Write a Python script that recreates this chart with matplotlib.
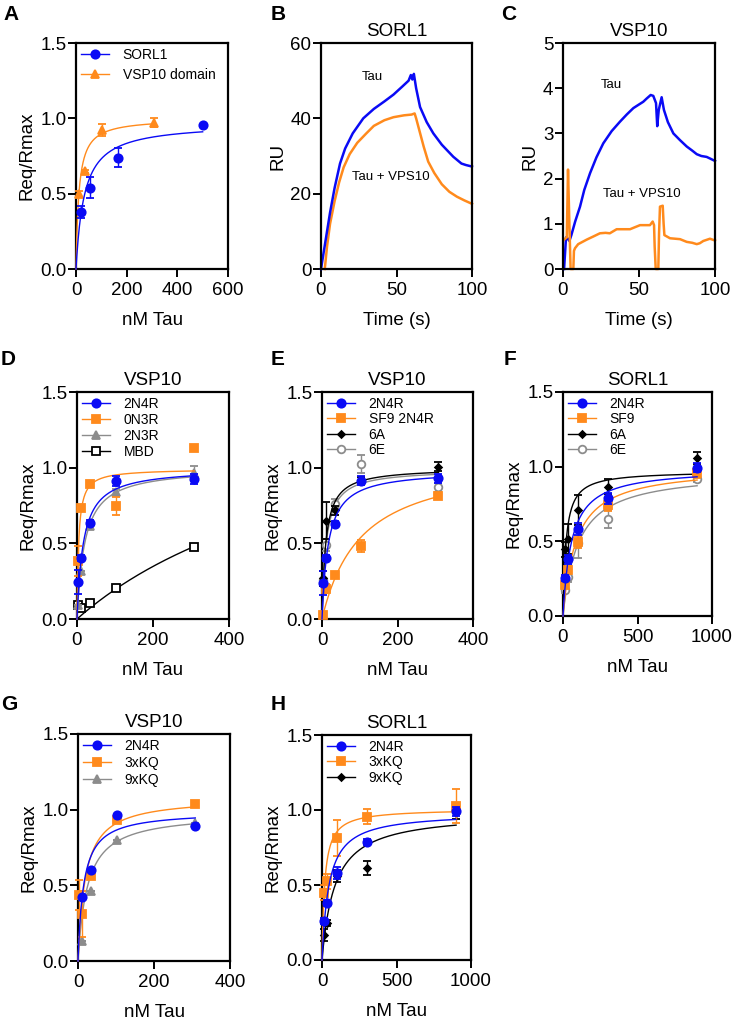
import matplotlib
matplotlib.use('Agg')
import matplotlib.pyplot as plt
from matplotlib.lines import Line2D
import numpy as np

plt.rcParams['font.family'] = ['Liberation Sans', 'DejaVu Sans']

BLUE = '#0a0af5'
ORANGE = '#ff8a1c'
GREY = '#8c8c8c'
BLACK = '#000000'

# ---- panel A: saturation binding ----
a_sorl_x = [18.5, 55.6, 166.7, 500]
a_sorl_y = [0.38, 0.54, 0.74, 0.955]
a_sorl_err = [0.04, 0.07, 0.06, 0.0]
a_vps_x = [11.4, 34.3, 102.9, 308.6]
a_vps_y = [0.50, 0.65, 0.925, 0.97]
a_vps_err = [0.02, 0.01, 0.04, 0.03]
a_fit = {'SORL1': (0.97, 32.6), 'VSP10 domain': (1.0, 11.5)}

# ---- panel B: sensorgram SORL1 ----
b_tau_t = [0, 2, 4, 6, 9, 12.6, 16, 21, 28, 35, 42, 48, 54, 58, 59.5, 60.5, 61.5,
           63, 65.6, 70, 74.4, 80, 87.6, 93, 96, 100]
b_tau_ru = [0, 5, 10, 15, 21.5, 28, 32, 36, 40, 42.5, 44.5, 46.3, 48.5, 50, 51.5, 50.3, 51.8,
            48, 43, 39, 36, 33, 29.8, 28, 27.6, 27.2]
b_vps_t = [2.5, 4, 6, 9, 12, 15, 19, 24, 30, 35, 42, 48, 55, 60, 62, 63, 65, 68, 71, 75,
           80, 85, 90, 95, 100]
b_vps_ru = [0, 6, 12, 18, 23, 27, 30.5, 33.5, 36, 38, 39.5, 40.3, 40.8, 41, 41.3, 40, 37,
            32.5, 28.5, 25.5, 22.5, 20.5, 19.2, 18.2, 17.3]

# ---- panel C: sensorgram VSP10 ----
c_tau_t = [0.7, 2, 3, 4.2, 5.5, 8, 11.2, 14, 17.8, 22, 26.5, 32, 37.5, 42, 46.3, 50, 52.8,
           55, 57.7, 59.4, 61.2, 62, 63, 64.9, 66.4, 69, 72.6, 77, 81.4, 85, 88, 91, 94.5,
           97, 100]
c_tau_ru = [0, 0.7, 0.68, 0.62, 0.75, 1.05, 1.38, 1.75, 2.12, 2.47, 2.78, 3.05, 3.26, 3.42,
            3.56, 3.64, 3.70, 3.77, 3.85, 3.83, 3.67, 3.16, 3.52, 3.80, 3.52, 3.25, 3.0, 2.85,
            2.71, 2.62, 2.54, 2.5, 2.48, 2.44, 2.39]
c_vps_t = [0.7, 2.5, 3.3, 4.2, 5, 6.8, 7.2, 7.9, 10, 15.6, 20, 24.3, 28, 30.8, 35.3, 40, 44.1,
           47, 50.7, 55, 57.2, 59, 59.9, 60.3, 61, 62.7, 63.2, 63.8, 65.6, 66.2, 66.7, 70.4,
           77, 81.4, 85, 88, 90, 92.3, 96.7, 100]
c_vps_ru = [0.65, 0.7, 2.2, 1.0, 0, 0, 0.4, 0.46, 0.55, 0.65, 0.72, 0.79, 0.8, 0.79, 0.88,
            0.88, 0.88, 0.92, 0.97, 0.97, 0.97, 1.05, 0.97, 0.5, 0, 0, 0.8, 1.38, 1.4, 1.0,
            0.75, 0.68, 0.66, 0.6, 0.58, 0.55, 0.57, 0.62, 0.67, 0.63]

# ---- panels D, E, G (VSP10) concentrations ----
conc_v = [3.8, 11.4, 34.3, 102.9, 308.6]
conc_v4 = [11.4, 34.3, 102.9, 308.6]
# ---- panels F, H (SORL1) concentrations ----
conc_s = [11.1, 33.3, 100, 300, 900]

d_2n4r = [0.243, 0.40, 0.632, 0.912, 0.925]
d_2n4r_err = [0.08, 0.02, 0.02, 0.03, 0.03]
d_0n3r = [0.383, 0.735, 0.89, 0.747, 1.128]
d_0n3r_err = [0.1, 0.0, 0.0, 0.06, 0.0]
d_2n3r = [0.093, 0.317, 0.617, 0.837, 0.963]
d_2n3r_err = [0.0, 0.0, 0.0, 0.02, 0.05]
d_mbd = [0.093, 0.075, 0.104, 0.207, 0.478]
d_mbd_err = [0.0, 0.0, 0.0, 0.0, 0.0]
d_fit = {'2N4R': (0.998, 16.6), '0N3R': (0.992, 4.3), '2N3R': (1.002, 20.3), 'MBD': (1.61, 727)}

e_2n4r = [0.24, 0.40, 0.63, 0.914, 0.93]
e_2n4r_err = [0.08, 0.02, 0.02, 0.03, 0.03]
e_sf9 = [0.026, 0.20, 0.29, 0.485, 0.81]
e_sf9_err = [0.0, 0.03, 0.02, 0.04, 0.02]
e_6a = [0.27, 0.65, 0.72, 0.92, 1.005]
e_6a_err = [0.05, 0.12, 0.03, 0.02, 0.03]
e_6e = [0.26, 0.49, 0.76, 1.025, 0.87]
e_6e_err = [0.0, 0.04, 0.03, 0.06, 0.03]
e_fit = {'2N4R': (0.985, 16.6), 'SF9 2N4R': (1.08, 103), '6A': (1.0, 10), '6E': (0.99, 11)}

f_2n4r = [0.253, 0.38, 0.58, 0.787, 0.993]
f_2n4r_err = [0.02, 0.03, 0.04, 0.04, 0.03]
f_sf9 = [0.208, 0.31, 0.495, 0.742, 0.955]
f_sf9_err = [0.02, 0.02, 0.04, 0.04, 0.03]
f_6a = [0.446, 0.518, 0.708, 0.865, 1.06]
f_6a_err = [0.05, 0.1, 0.1, 0.05, 0.04]
f_6e = [0.177, 0.26, 0.49, 0.652, 0.92]
f_6e_err = [0.02, 0.03, 0.1, 0.06, 0.02]
f_fit = {'2N4R': (0.991, 57), 'SF9': (1.0, 88.6), '6A': (0.971, 19.9), '6E': (0.971, 102)}

g_2n4r = [0.42, 0.60, 0.967, 0.889]
g_2n4r_err = [0.0, 0.0, 0.0, 0.0]
g_3xkq = [0.436, 0.31, 0.562, 0.929, 1.04]
g_3xkq_err = [0.1, 0.15, 0.02, 0.02, 0.02]
g_9xkq = [0.133, 0.463, 0.80, 0.91]
g_9xkq_err = [0.0, 0.0, 0.0, 0.0]
g_fit = {'2N4R': (0.99, 14.6), '3xKQ': (1.081, 19), '9xKQ': (0.98, 24.7)}

h_2n4r = [0.26, 0.383, 0.578, 0.787, 0.993]
h_2n4r_err = [0.02, 0.02, 0.04, 0.02, 0.03]
h_3xkq = [0.45, 0.525, 0.814, 0.955, 1.027]
h_3xkq_err = [0.05, 0.05, 0.12, 0.05, 0.115]
h_9xkq = [0.17, 0.245, 0.563, 0.615, 0.978]
h_9xkq_err = [0.04, 0.02, 0.04, 0.045, 0.04]
h_fit = {'2N4R': (0.985, 45.9), '3xKQ': (1.008, 17.9), '9xKQ': (0.985, 86)}

# marker styles per series: (marker, size, facecolor)
STY = {
    'circle': ('o', 6, None),
    'square': ('s', 5.5, None),
    'tri': ('^', 5.5, None),
    'diamond': ('D', 3.5, None),
    'opensq': ('s', 5.5, 'white'),
    'opencirc': ('o', 5.5, 'white'),
}

TICK_FS = 13.5
LAB_FS = 13.5
LEG_FS = 10

fig = plt.figure(figsize=(7.33, 10.26), dpi=100)
W, H = 733.0, 1026.0


def make_ax(x0, y0, x1, y1):
    return fig.add_axes([x0 / W, 1 - y1 / H, (x1 - x0) / W, (y1 - y0) / H])


def style_ax(ax):
    for s in ax.spines.values():
        s.set_linewidth(1.6)
    ax.tick_params(direction='out', length=5.5, width=1.4, labelsize=TICK_FS)
    ax.tick_params(axis='x', pad=4)
    ax.tick_params(axis='y', pad=1.5)


def binding(ax, series, fits, xmax, xticks, title, lab_sp):
    handles = []
    for i, (name, x, y, err, color, kind) in enumerate(series):
        mk, ms, mfc = STY[kind]
        z = 10 - i
        bm, kd = fits[name]
        xf = np.linspace(0, max(x), 300)
        ax.plot(xf, bm * xf / (kd + xf), color=color, lw=1.0, zorder=z, clip_on=False)
        ax.errorbar(x, y, yerr=err, fmt=mk, ms=ms, color=color,
                    mfc=mfc if mfc else color, mec=color, mew=1.3,
                    ecolor=color, elinewidth=1.0, capsize=3, capthick=1.0, zorder=z + 0.5,
                    clip_on=False)
        handles.append(Line2D([], [], color=color, lw=1.0, marker=mk, ms=ms,
                              mfc=mfc if mfc else color, mec=color, mew=1.3, label=name))
    ax.set_xlim(0, xmax)
    ax.set_ylim(0, 1.5)
    ax.set_xticks(xticks)
    ax.set_yticks([0, 0.5, 1.0, 1.5])
    ax.set_yticklabels(['0.0', '0.5', '1.0', '1.5'])
    ax.set_ylabel('Req/Rmax', fontsize=LAB_FS, labelpad=3)
    ax.set_xlabel('nM Tau', fontsize=LAB_FS, labelpad=9)
    if title:
        ax.set_title(title, fontsize=LAB_FS, pad=5)
    ax.legend(handles=handles, loc='upper left', frameon=False, fontsize=LEG_FS,
              handlelength=2.0, handletextpad=1.0, labelspacing=lab_sp,
              borderaxespad=0.2, borderpad=0.15)
    style_ax(ax)


# A
axA = make_ax(76, 43, 228, 269)
binding(axA, [('SORL1', a_sorl_x, a_sorl_y, a_sorl_err, BLUE, 'circle'),
              ('VSP10 domain', a_vps_x, a_vps_y, a_vps_err, ORANGE, 'tri')],
        a_fit, 600, [0, 200, 400, 600], None, 0.45)

# B
axB = make_ax(321, 43, 472, 269)
axB.plot(b_tau_t, b_tau_ru, color=BLUE, lw=1.8, clip_on=False)
axB.plot(b_vps_t, b_vps_ru, color=ORANGE, lw=1.8, clip_on=False, zorder=1)
axB.set_xlim(0, 100)
axB.set_ylim(0, 60)
axB.set_xticks([0, 50, 100])
axB.set_yticks([0, 20, 40, 60])
axB.set_ylabel('RU', fontsize=LAB_FS, labelpad=3)
axB.set_xlabel('Time (s)', fontsize=LAB_FS, labelpad=9)
axB.set_title('SORL1', fontsize=LAB_FS, pad=5)
axB.text(34, 51, 'Tau', fontsize=9.5, ha='center', va='center')
axB.text(46, 24.5, 'Tau + VPS10', fontsize=9.5, ha='center', va='center')
style_ax(axB)

# C
axC = make_ax(563, 43, 715, 269)
axC.plot(c_tau_t, c_tau_ru, color=BLUE, lw=1.8, clip_on=False)
axC.plot(c_vps_t, c_vps_ru, color=ORANGE, lw=1.8, clip_on=False)
axC.set_xlim(0, 100)
axC.set_ylim(0, 5)
axC.set_xticks([0, 50, 100])
axC.set_yticks([0, 1, 2, 3, 4, 5])
axC.set_ylabel('RU', fontsize=LAB_FS, labelpad=3)
axC.set_xlabel('Time (s)', fontsize=LAB_FS, labelpad=9)
axC.set_title('VSP10', fontsize=LAB_FS, pad=5)
axC.text(32, 4.07, 'Tau', fontsize=9.5, ha='center', va='center')
axC.text(52, 1.66, 'Tau + VPS10', fontsize=9.5, ha='center', va='center')
style_ax(axC)

# D
axD = make_ax(77, 392, 229, 619)
binding(axD, [('2N4R', conc_v, d_2n4r, d_2n4r_err, BLUE, 'circle'),
              ('0N3R', conc_v, d_0n3r, d_0n3r_err, ORANGE, 'square'),
              ('2N3R', conc_v, d_2n3r, d_2n3r_err, GREY, 'tri'),
              ('MBD', conc_v, d_mbd, d_mbd_err, BLACK, 'opensq')],
        d_fit, 400, [0, 200, 400], 'VSP10', 0.15)

# E
axE = make_ax(322, 392, 473, 619)
binding(axE, [('2N4R', conc_v, e_2n4r, e_2n4r_err, BLUE, 'circle'),
              ('SF9 2N4R', conc_v, e_sf9, e_sf9_err, ORANGE, 'square'),
              ('6A', conc_v, e_6a, e_6a_err, BLACK, 'diamond'),
              ('6E', conc_v, e_6e, e_6e_err, GREY, 'opencirc')],
        e_fit, 400, [0, 200, 400], 'VSP10', 0.1)

# F
axF = make_ax(563, 392, 712, 616)
binding(axF, [('2N4R', conc_s, f_2n4r, f_2n4r_err, BLUE, 'circle'),
              ('SF9', conc_s, f_sf9, f_sf9_err, ORANGE, 'square'),
              ('6A', conc_s, f_6a, f_6a_err, BLACK, 'diamond'),
              ('6E', conc_s, f_6e, f_6e_err, GREY, 'opencirc')],
        f_fit, 1000, [0, 500, 1000], 'SORL1', 0.1)

# G
axG = make_ax(78, 734, 230, 961)
binding(axG, [('2N4R', conc_v4, g_2n4r, g_2n4r_err, BLUE, 'circle'),
              ('3xKQ', conc_v, g_3xkq, g_3xkq_err, ORANGE, 'square'),
              ('9xKQ', conc_v4, g_9xkq, g_9xkq_err, GREY, 'tri')],
        g_fit, 400, [0, 200, 400], 'VSP10', 0.22)

# H
axH = make_ax(322, 735, 471, 960)
binding(axH, [('2N4R', conc_s, h_2n4r, h_2n4r_err, BLUE, 'circle'),
              ('3xKQ', conc_s, h_3xkq, h_3xkq_err, ORANGE, 'square'),
              ('9xKQ', conc_s, h_9xkq, h_9xkq_err, BLACK, 'diamond')],
        h_fit, 1000, [0, 500, 1000], 'SORL1', 0.1)

# panel letters
letters = [('A', 3, 5), ('B', 271, 5), ('C', 501, 5), ('D', 1, 350), ('E', 271, 350),
           ('F', 504, 350), ('G', 1, 695), ('H', 271, 695)]
for t, px, py in letters:
    fig.text(px / W, 1 - py / H, t, fontsize=15, fontweight='bold', ha='left', va='top')

fig.savefig('out.png', dpi=100)
